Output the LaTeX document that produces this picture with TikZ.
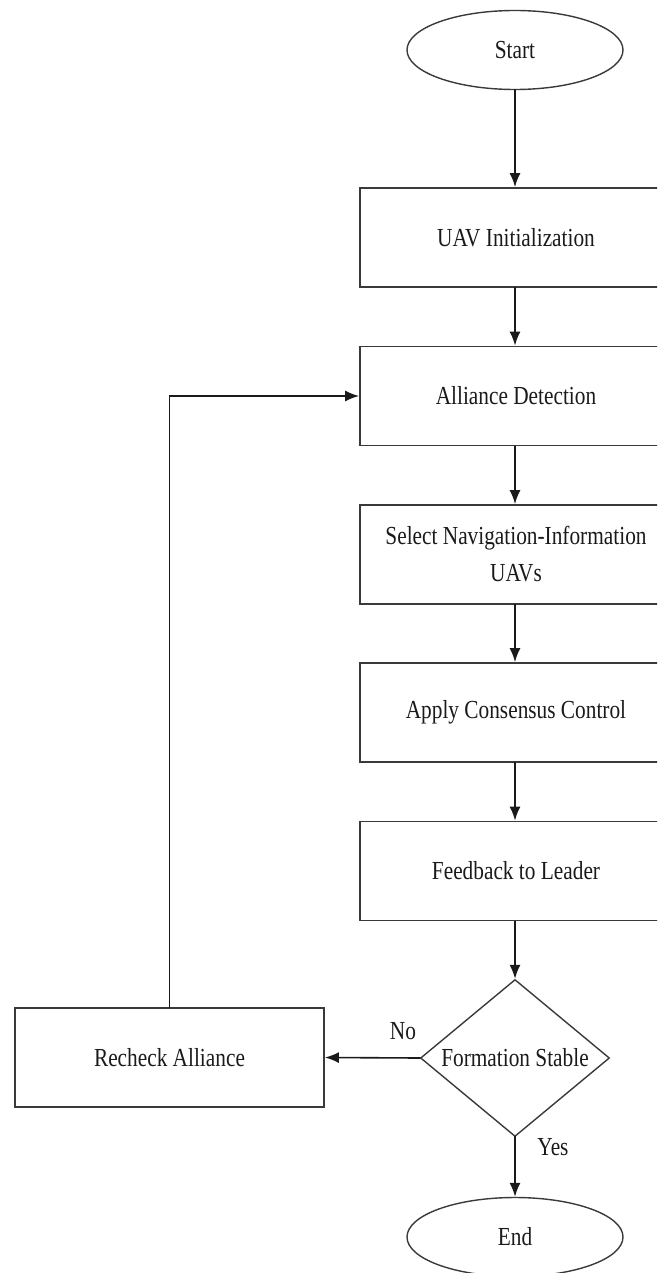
\documentclass[tikz,border=0pt]{standalone}
\usepackage{fontspec}
\setmainfont{Liberation Serif}[FakeStretch=0.82]
\usepackage{tikz}
\usetikzlibrary{shapes.geometric}
\usetikzlibrary{arrows.meta}

\begin{document}
\begin{tikzpicture}[x=1pt,y=-1pt,line cap=rect,
		font=\fontsize{26pt}{37pt}\selectfont,
		stepbox/.style={draw=custcol_3a_3a_3a, line width=1.8pt, rectangle, minimum width=312pt, minimum height=99pt, inner sep=0, align=center, text=custcol_1a_1a_1a},
		termbox/.style={draw=custcol_3a_3a_3a, line width=1.4pt, ellipse, minimum width=216pt, minimum height=79pt, inner sep=0, text=custcol_1a_1a_1a},
		askbox/.style={draw=custcol_3a_3a_3a, line width=1.4pt, diamond, aspect=1.2, minimum width=189pt, minimum height=157pt, inner sep=0, text=custcol_1a_1a_1a},
		flow/.style={line width=1.6pt, custcol_1a_1a_1a, -{Latex[length=14pt,width=11pt]}},
		tag/.style={inner sep=0, outer sep=0, text=custcol_1a_1a_1a}]
				\definecolor{custcol_3a_3a_3a}{RGB}{58, 58, 58}
				\definecolor{custcol_1a_1a_1a}{RGB}{26, 26, 26}
				\useasboundingbox (0,0) rectangle (657,1273);
				\clip (0,0) rectangle (657,1273); % right side of the boxes runs off the page
				\node [termbox] (start) at (515,50) {Start};
				\node [stepbox] (init) at (516,237.5) {UAV Initialization};
				\node [stepbox] (align) at (516,396) {Alliance Detection};
				\node [stepbox] (pick) at (516,554.5) {Select Navigation-Information\\UAVs};
				\node [stepbox] (cons) at (516,712.5) {Apply Consensus Control};
				\node [stepbox] (feed) at (516,871) {Feedback to Leader};
				\node [askbox] (stable) at (515,1058) {Formation Stable};
				\node [stepbox, minimum width=309pt] (recheck) at (169.5,1057.5) {Recheck Alliance};
				\node [termbox] (finish) at (515,1237) {End};
				\node [tag] (nolbl) at (403,1031) {No};
				\node [tag] (yeslbl) at (553,1147) {Yes};
				\draw [flow] (start) -- (start |- init.north);
				\draw [flow] (init.south -| start) -- (start |- align.north);
				\draw [flow] (align.south -| start) -- (start |- pick.north);
				\draw [flow] (pick.south -| start) -- (start |- cons.north);
				\draw [flow] (cons.south -| start) -- (start |- feed.north);
				\draw [flow] (feed.south -| start) -- (stable.north);
				\draw [flow] (stable.south) -- (finish.north);
				\draw [flow] (stable.west) -- (recheck.east);
				\draw [flow] (recheck.north) -- (recheck.north |- align.west) -- (align.west);
			\end{tikzpicture}
\end{document}
